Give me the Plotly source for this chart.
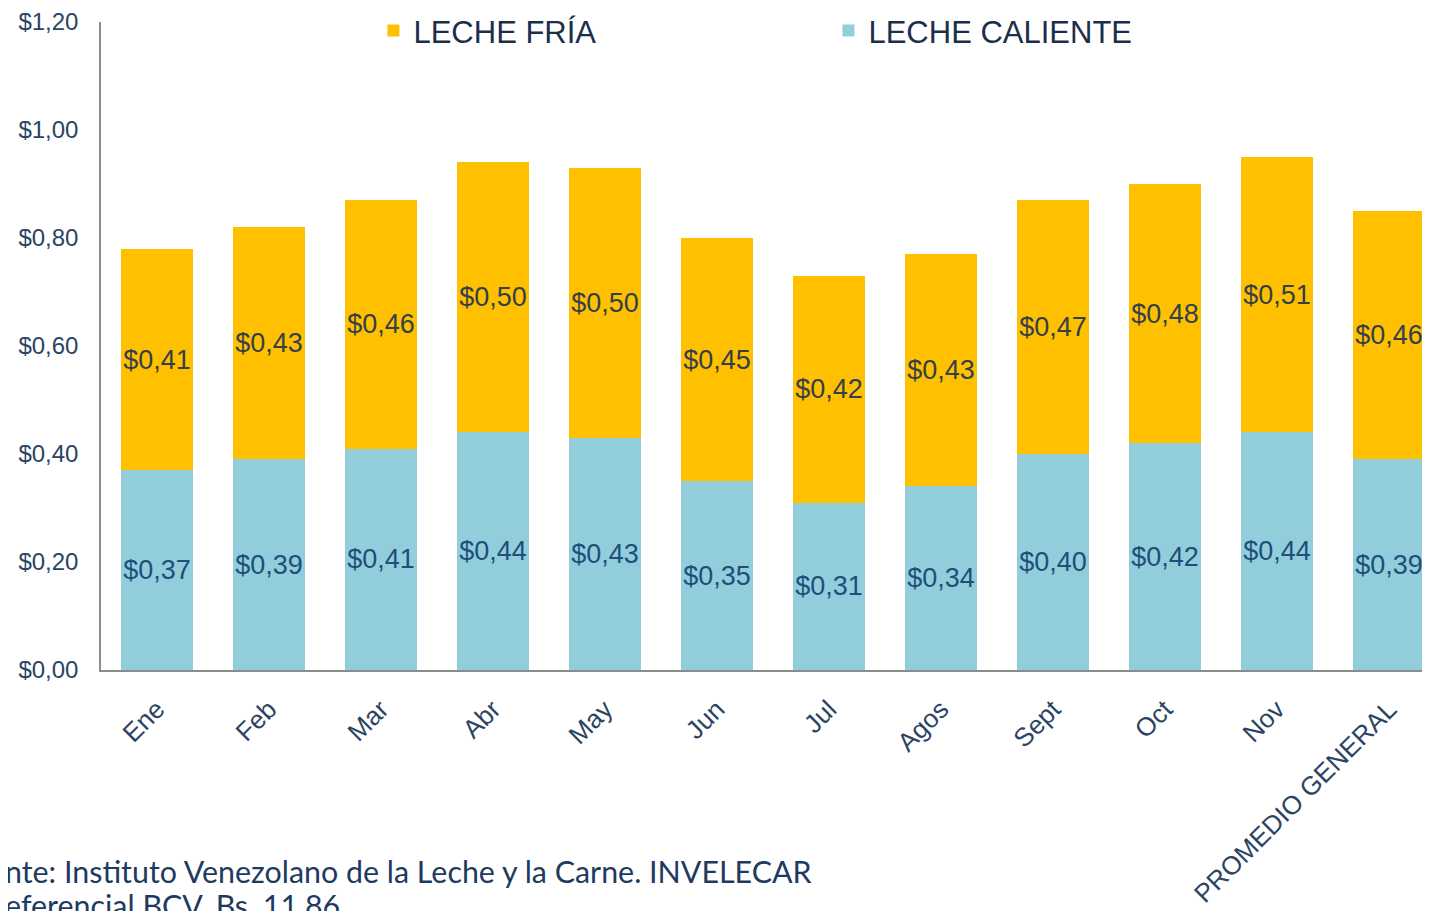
import plotly.graph_objects as go

categories = ["Ene", "Feb", "Mar", "Abr", "May", "Jun", "Jul", "Agos", "Sept", "Oct", "Nov", "PROMEDIO GENERAL"]
leche_caliente = [0.37, 0.39, 0.41, 0.44, 0.43, 0.35, 0.31, 0.34, 0.40, 0.42, 0.44, 0.39]
leche_fria = [0.41, 0.43, 0.46, 0.50, 0.50, 0.45, 0.42, 0.43, 0.47, 0.48, 0.51, 0.46]
y_ticks = [0, 0.2, 0.4, 0.6, 0.8, 1.0, 1.2]
y_tick_labels = ["$0,00", "$0,20", "$0,40", "$0,60", "$0,80", "$1,00", "$1,20"]
footer_lines = ["nte: Instituto Venezolano de la Leche y la Carne. INVELECAR",
                "eferencial BCV. Bs. 11,86"]


def fmt(v):
    return "$" + f"{v:.2f}".replace(".", ",")


FONT = "Liberation Sans, Arial, sans-serif"
ML, MT, PW, PH = 93, 14, 1329, 648

fig = go.Figure()
fig.add_trace(go.Bar(
    name="LECHE CALIENTE", x=categories, y=leche_caliente,
    marker=dict(color="#92CDDC", line=dict(width=0)),
    text=[fmt(v) for v in leche_caliente], textposition="inside",
    insidetextanchor="middle", textangle=0, constraintext="none",
    textfont=dict(family=FONT, size=27, color="#1F4E79"),
    hoverinfo="x+y",
))
fig.add_trace(go.Bar(
    name="LECHE FRÍA", x=categories, y=leche_fria,
    marker=dict(color="#FFC000", line=dict(width=0)),
    text=[fmt(v) for v in leche_fria], textposition="inside",
    insidetextanchor="middle", textangle=0, constraintext="none",
    textfont=dict(family=FONT, size=27, color="#33404A"),
    hoverinfo="x+y",
))

fig.update_layout(
    width=1430, height=911,
    barmode="stack", bargap=0.357,
    paper_bgcolor="white", plot_bgcolor="white",
    margin=dict(l=ML, r=1430 - ML - PW, t=MT, b=911 - MT - PH, autoexpand=False),
    font=dict(family=FONT, color="#2B4463"),
    showlegend=True,
    legend=dict(
        orientation="h", traceorder="reversed",
        x=0.205, xanchor="left", y=1.028, yanchor="top",
        font=dict(family=FONT, size=31, color="#1B2F4A"),
        entrywidth=410, entrywidthmode="pixels",
        bgcolor="rgba(0,0,0,0)",
    ),
    xaxis=dict(
        range=[-0.5, 11.366], automargin=False,
        showline=True, linecolor="#8C8C8C", linewidth=1.5,
        showgrid=False, ticks="", tickangle=-45,
        tickfont=dict(family=FONT, size=26, color="#2B4463"),
        ticklabelstandoff=12,
    ),
    yaxis=dict(
        range=[0, 1.2], tickvals=y_ticks, ticktext=y_tick_labels, automargin=False,
        showline=True, linecolor="#8C8C8C", linewidth=1.5,
        showgrid=False, zeroline=False, ticks="",
        tickfont=dict(family=FONT, size=24, color="#2B4463"),
        ticklabelstandoff=16,
    ),
)

fig.add_annotation(
    text=footer_lines[0], xref="paper", yref="paper",
    x=-(ML + 5) / PW, xanchor="left", y=-(871 - 670) / PH, yanchor="middle",
    showarrow=False, font=dict(family="Lato, sans-serif", size=30.4, color="#1F3A5F"),
)
fig.add_annotation(
    text=footer_lines[1], xref="paper", yref="paper",
    x=-(ML + 5) / PW, xanchor="left", y=-(905 - 670) / PH, yanchor="middle",
    showarrow=False, font=dict(family="Lato, sans-serif", size=30.4, color="#1F3A5F"),
)

fig.write_html("out.html")
